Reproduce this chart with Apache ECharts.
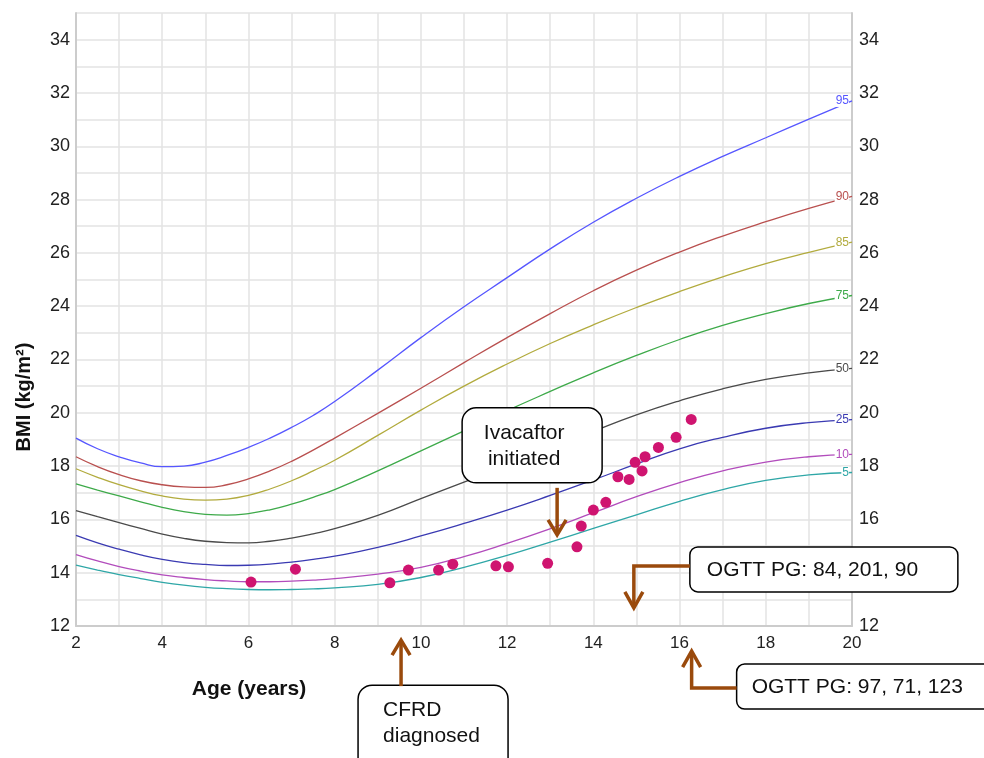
<!DOCTYPE html>
<html><head><meta charset="utf-8">
<script src="https://cdn.jsdelivr.net/npm/echarts@6/dist/echarts.min.js"></script>
<style>html,body{margin:0;padding:0;background:#fff}#c{width:984px;height:758px}</style>
</head><body><div id="c"></div>
<script>
// ---- data ----
const ages = [2,2.5,3,3.5,4,4.5,5,5.5,6,6.5,7,7.5,8,9,10,11,12,13,14,15,16,17,18,19,20];
const p95 = [19.05,18.65,18.35,18.12,17.98,18.0,18.15,18.4,18.7,19.05,19.45,19.9,20.42,21.6,22.82,23.98,25.07,26.15,27.15,28.05,28.87,29.62,30.32,31.02,31.7];
const p90 = [18.35,17.98,17.68,17.45,17.3,17.22,17.2,17.3,17.52,17.82,18.18,18.6,19.05,19.98,20.92,21.88,22.82,23.72,24.58,25.35,26.03,26.63,27.17,27.67,28.12];
const p85 = [17.9,17.58,17.3,17.07,16.88,16.76,16.72,16.76,16.9,17.14,17.45,17.82,18.22,19.15,20.1,21.0,21.83,22.6,23.3,23.95,24.55,25.1,25.6,26.02,26.4];
const p75 = [17.33,17.1,16.88,16.66,16.45,16.29,16.19,16.16,16.22,16.36,16.57,16.83,17.12,17.82,18.57,19.32,20.08,20.8,21.5,22.15,22.75,23.28,23.72,24.1,24.4];
const p50 = [16.33,16.1,15.88,15.66,15.45,15.29,15.18,15.13,15.12,15.18,15.3,15.46,15.65,16.15,16.78,17.4,18.02,18.65,19.3,19.92,20.45,20.9,21.25,21.5,21.67];
const p25 = [15.4,15.12,14.88,14.67,14.5,14.38,14.31,14.27,14.28,14.32,14.4,14.5,14.62,14.95,15.38,15.85,16.35,16.9,17.48,18.08,18.65,19.08,19.42,19.63,19.74];
const p10 = [14.68,14.44,14.23,14.06,13.92,13.82,13.74,13.69,13.66,13.66,13.68,13.72,13.78,13.95,14.2,14.6,15.1,15.65,16.25,16.85,17.38,17.82,18.15,18.35,18.44];
const p5  = [14.28,14.1,13.93,13.78,13.64,13.53,13.45,13.4,13.37,13.36,13.37,13.39,13.43,13.56,13.82,14.2,14.65,15.15,15.66,16.17,16.68,17.12,17.46,17.67,17.76];
const percentileNames = ['95','90','85','75','50','25','10','5'];
const percentileValues = [p95,p90,p85,p75,p50,p25,p10,p5];
const percentileColors = ['#5656ff','#b9504f','#b2ab3e','#3eaa4a','#4a4a4a','#3a3ab2','#b24cbc','#2fa7a7'];

const patientAge = [6.06,7.09,9.28,9.71,10.41,10.74,11.74,12.03,12.94,13.62,13.72,14.0,14.29,14.57,14.83,14.97,15.13,15.2,15.51,15.92,16.27];
const patientBMI = [13.65,14.13,13.62,14.1,14.1,14.32,14.26,14.22,14.35,14.97,15.75,16.35,16.64,17.6,17.5,18.14,17.82,18.35,18.7,19.08,19.75];

const xTicks = [2,4,6,8,10,12,14,16,18,20];
const yTicks = [12,14,16,18,20,22,24,26,28,30,32,34];

const annotationText = ['Ivacaftor\ninitiated','CFRD\ndiagnosed','OGTT PG: 84, 201, 90','OGTT PG: 97, 71, 123'];
const annotationAge = [13.16, 9.54, 14.94, 16.28];
const annotationBMI = [15.42, 11.47, 12.68, 11.06];

// ---- chart ----
const FONT = '"Liberation Sans", Arial, Helvetica, sans-serif';
const chart = echarts.init(document.getElementById('c'), null, {renderer:'canvas'});

const evenFmt = (ticks) => (v) => ticks.indexOf(Math.round(v)) >= 0 && Math.abs(v - Math.round(v)) < 1e-6 ? String(Math.round(v)) : '';

const series = percentileNames.map((n, i) => ({
  name: n,
  type: 'line',
  smooth: 0.5,
  symbol: 'none',
  data: ages.map((a, j) => [a, percentileValues[i][j]]),
  lineStyle: {color: percentileColors[i], width: 1.3},
  itemStyle: {color: percentileColors[i]},
  endLabel: {
    show: true, formatter: n, color: percentileColors[i], fontSize: 12, fontFamily: FONT,
    align: 'right', offset: [-11, 0], backgroundColor: '#fff', padding: [0, 0, 0, 1]
  },
  z: 3,
  silent: true
}));
series.push({
  name: 'patient',
  type: 'scatter',
  data: patientAge.map((a, i) => [a, patientBMI[i]]),
  symbolSize: 11,
  itemStyle: {color: '#cf1470', opacity: 1},
  z: 5
});

const option = {
  backgroundColor: '#fff',
  animation: false,
  grid: {left: 76, right: 132, top: 13, bottom: 132},
  xAxis: {
    type: 'value', min: 2, max: 20, interval: 1,
    axisLine: {show: true, onZero: false, lineStyle: {color: '#cccccc', width: 2}},
    axisTick: {show: false},
    splitLine: {show: true, lineStyle: {color: '#e3e3e3', width: 1.5}},
    axisLabel: {formatter: evenFmt(xTicks), color: '#222', fontSize: 17, fontFamily: FONT, margin: 9, showMaxLabel: true, showMinLabel: true}
  },
  yAxis: [{
    type: 'value', min: 12, max: 35, interval: 1, position: 'left',
    axisLine: {show: true, onZero: false, lineStyle: {color: '#cccccc', width: 2}},
    axisTick: {show: false},
    splitLine: {show: true, lineStyle: {color: '#e3e3e3', width: 1.5}},
    axisLabel: {formatter: evenFmt(yTicks), color: '#222', fontSize: 18, fontFamily: FONT, margin: 6}
  }, {
    type: 'value', min: 12, max: 35, interval: 1, position: 'right',
    axisLine: {show: true, onZero: false, lineStyle: {color: '#cccccc', width: 2}},
    axisTick: {show: false},
    splitLine: {show: false},
    axisLabel: {formatter: evenFmt(yTicks), color: '#222', fontSize: 18, fontFamily: FONT, margin: 7}
  }],
  series: series
};
chart.setOption(option);

// ---- annotations anchored to data coordinates ----
const ARROW = '#9a4a0c';
const px = annotationAge.map((a, i) => chart.convertToPixel({xAxisIndex: 0, yAxisIndex: 0}, [a, annotationBMI[i]]));
const g = [];
function box(x, y, w, h, r) {
  g.push({type: 'rect', z: 100, shape: {x, y, width: w, height: h, r}, style: {fill: '#fff', stroke: '#000', lineWidth: 1.5}});
}
function line(points) {
  g.push({type: 'polyline', z: 101, shape: {points}, style: {stroke: ARROW, lineWidth: 3.5, fill: null, lineJoin: 'miter', lineCap: 'butt'}});
}
function text(t, x, y, align) {
  g.push({type: 'text', z: 102, style: {text: t, x, y, fill: '#111', font: '21px ' + FONT, align: align || 'left', verticalAlign: 'middle', lineHeight: 26}});
}
// Ivacaftor (arrow pointing down)
{
  const [tx, ty] = px[0];
  box(tx - 95, ty - 127, 140, 75, 14);
  text(annotationText[0], tx - 33, ty - 89, 'center');
  line([[tx, ty - 47], [tx, ty - 2]]);
  line([[tx - 9, ty - 15], [tx, ty], [tx + 9, ty - 15]]);
}
// CFRD (arrow pointing up)
{
  const [tx, ty] = px[1];
  line([[tx, ty + 46], [tx, ty + 2]]);
  line([[tx - 9, ty + 15], [tx, ty], [tx + 9, ty + 15]]);
  box(tx - 43, ty + 45, 150, 95, 14);
  text(annotationText[1], tx - 18, ty + 83, 'left');
}
// OGTT 1 (elbow arrow pointing down)
{
  const [tx, ty] = px[2];
  line([[tx + 56, ty - 42], [tx, ty - 42], [tx, ty - 2]]);
  line([[tx - 9, ty - 16], [tx, ty], [tx + 9, ty - 16]]);
  box(tx + 56, ty - 61, 268, 45, 8);
  text(annotationText[2], tx + 73, ty - 38, 'left');
}
// OGTT 2 (elbow arrow pointing up)
{
  const [tx, ty] = px[3];
  line([[tx + 45, ty + 37], [tx, ty + 37], [tx, ty + 2]]);
  line([[tx - 9, ty + 16], [tx, ty], [tx + 9, ty + 16]]);
  box(tx + 45, ty + 13, 270, 45, 8);
  text(annotationText[3], tx + 60, ty + 36, 'left');
}
// axis titles
g.push({type: 'text', z: 50, style: {text: 'Age (years)', x: 249, y: 689, fill: '#111', font: 'bold 21px ' + FONT, align: 'center', verticalAlign: 'middle'}});
g.push({type: 'text', z: 50, rotation: Math.PI / 2, x: 24, y: 397, style: {text: 'BMI (kg/m²)', x: 0, y: 0, fill: '#111', font: 'bold 20px ' + FONT, align: 'center', verticalAlign: 'middle'}});
chart.setOption({graphic: g});
</script>
</body></html>
